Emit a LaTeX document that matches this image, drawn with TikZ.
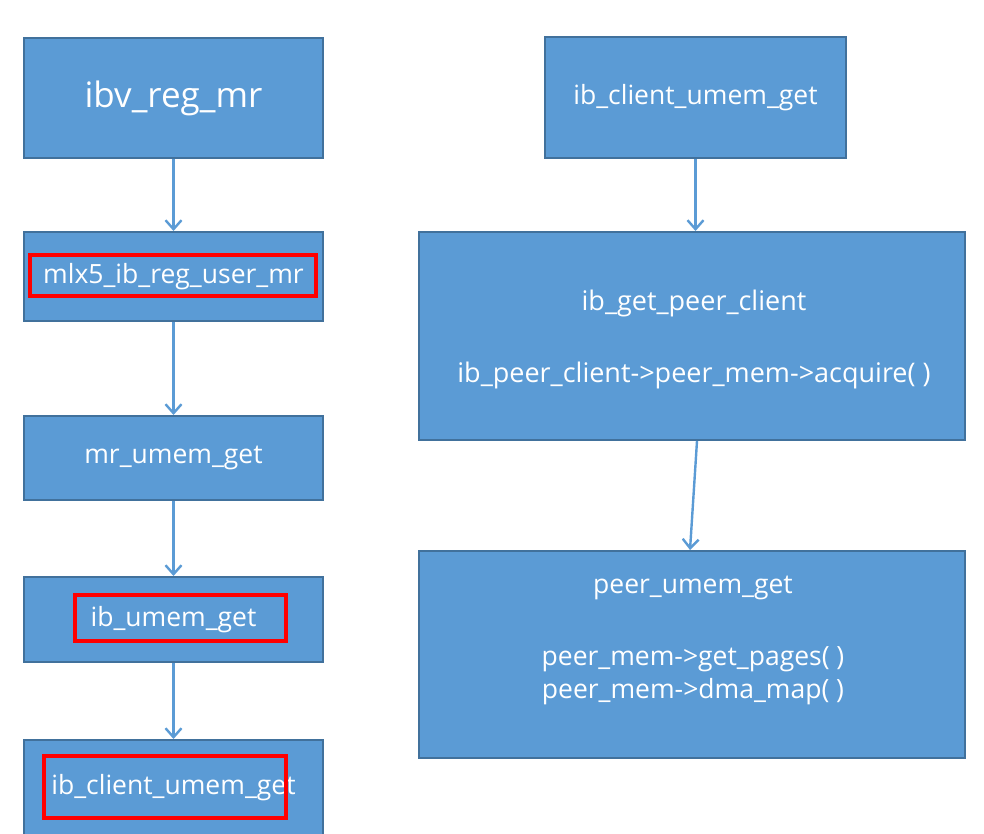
\documentclass[tikz,border=0pt]{standalone}
\usepackage{fontspec}
\setmainfont{Open Sans}
\usetikzlibrary{arrows.meta}
\definecolor{boxblue}{HTML}{5B9BD5}
\definecolor{boxline}{HTML}{41719C}
\tikzstyle{func}=[draw=boxline,fill=boxblue,text=white,line width=2pt,inner sep=0pt,font=\fontsize{26.5}{33}\selectfont]
\tikzstyle{hilite}=[draw=red,line width=4.5pt,inner sep=0pt]
\tikzstyle{edge}=[draw=boxblue,line width=2.4pt,-{Straight Barb[length=9pt,width=16pt]}]

\begin{document}
\begin{tikzpicture}[x=1pt,y=-1pt]
        \useasboundingbox (0,0) rectangle (984,834);
        \clip (0,0) rectangle (984,834);
        % left column
        \node[func,minimum width=299pt,minimum height=120pt,font=\fontsize{35}{40}\selectfont] (ibvreg) at (173.5,98) {ibv\_reg\_mr};
        \node[func,minimum width=299pt,minimum height=89pt] (mlx5) at (173.5,276.5) {mlx5\_ib\_reg\_user\_mr};
        \node[func,minimum width=299pt,minimum height=84pt] (mrumem) at (173.5,458) {mr\_umem\_get};
        \node[func,minimum width=299pt,minimum height=85pt] (ibumem) at (173.5,619.5) {ib\_umem\_get};
        \node[func,minimum width=299pt,minimum height=96pt] (clientl) at (173.5,788) {ib\_client\_umem\_get};
        % right column
        \node[func,minimum width=301pt,minimum height=121pt] (clientr) at (695.5,97.5) {ib\_client\_umem\_get};
        \node[func,minimum width=546pt,minimum height=208pt] (peerclient) at (692,336) {};
        \node[text=white,align=center,inner sep=0pt,font=\fontsize{27}{33}\selectfont] (peerclienttext) at (694,339.5) {ib\_get\_peer\_client\\[39pt]ib\_peer\_client->peer\_mem->acquire( )};
        \node[func,minimum width=546pt,minimum height=207pt] (peerumem) at (692,654.5) {};
        \node[text=white,align=center,inner sep=0pt,font=\fontsize{26.5}{33}\selectfont] (peertext) at (693,640.5) {peer\_umem\_get\\[39pt]peer\_mem->get\_pages( )\\peer\_mem->dma\_map( )};
        % red marks
        \node[hilite,minimum width=286pt,minimum height=41pt] (mlx5hl) at (173,275.5) {};
        \node[hilite,minimum width=211pt,minimum height=46pt] (ibumemhl) at (180.5,618) {};
        \node[hilite,minimum width=242pt,minimum height=62pt] (clienthl) at (165,787) {};
        \draw[edge] (ibvreg) to (mlx5);
        \draw[edge] (mlx5) to (mrumem);
        \draw[edge] (mrumem) to (ibumem);
        \draw[edge] (ibumem) to (clientl);
        \draw[edge] (clientr.south) to (clientr.south |- peerclient.north);
        \draw[edge] ([xshift=5pt]peerclient.south) to ([xshift=-2pt]peerumem.north);
      \end{tikzpicture}
\end{document}
